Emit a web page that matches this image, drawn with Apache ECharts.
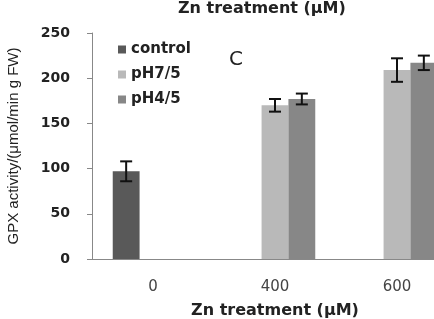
<!DOCTYPE html>
<html>
<head>
<meta charset="utf-8">
<script src="https://cdn.jsdelivr.net/npm/echarts@6/dist/echarts.min.js"></script>
<style>
  html, body { margin: 0; padding: 0; background: #fff; }
  /* the original figure is cropped on the right, so the chart is wider than the frame */
  #frame { position: relative; width: 434px; height: 319px; overflow: hidden; }
  #chart { position: absolute; left: 0; top: 0; width: 458px; height: 319px; }
</style>
</head>
<body>
<div id="frame"><div id="chart"></div></div>
<script>
// values
const categories = ['0', '400', '600']
const control = [97, null, null]
const controlErr = [11, null, null]
const ph75 = [null, 170, 209]
const ph75Err = [null, 7, 13]
const ph45 = [null, 177, 217]
const ph45Err = [null, 6, 8]
const yTicks = [0, 50, 100, 150, 200, 250]

const colors = ['#595959', '#b9b9b9', '#878787']
const gapPct = 0.34

// error bar drawn on top of the bar slot of series idx (of 3)
const errorSeries = (idx, vals, errs) => ({
  type: 'custom',
  silent: true,
  z: 10,
  data: vals.map((v, i) => (v == null ? [i, null, null] : [i, v - errs[i], v + errs[i]])),
  renderItem: (params, api) => {
    if (api.value(1) == null || isNaN(api.value(1))) return
    const band = api.size([1, 0])[0]
    const barW = band * (1 - gapPct) / 3
    const lo = api.coord([api.value(0), api.value(1)])
    const hi = api.coord([api.value(0), api.value(2)])
    const x = lo[0] + (idx - 1) * barW
    const cap = 6
    const style = { stroke: '#111', lineWidth: 2 }
    return {
      type: 'group',
      children: [
        { type: 'line', shape: { x1: x, y1: lo[1], x2: x, y2: hi[1] }, style },
        { type: 'line', shape: { x1: x - cap, y1: lo[1], x2: x + cap, y2: lo[1] }, style },
        { type: 'line', shape: { x1: x - cap, y1: hi[1], x2: x + cap, y2: hi[1] }, style }
      ]
    }
  }
})

const chart = echarts.init(document.getElementById('chart'), null, { renderer: 'canvas', width: 458, height: 319 })

chart.setOption({
  animation: false,
  backgroundColor: '#fff',
  grid: { left: 92, top: 33, bottom: 60, right: 0, containLabel: false, outerBoundsMode: 'none' },
  graphic: [
    {
      type: 'text',
      left: 178, top: 1,
      style: { text: 'Zn treatment (μM)', font: 'bold 16px "DejaVu Sans"', fill: '#222' }
    },
    {
      type: 'text',
      left: 229, top: 50,
      style: { text: 'C', font: '20px "DejaVu Sans"', fill: '#222' }
    }
  ],
  legend: {
    orient: 'vertical',
    left: 113, top: 37,
    itemWidth: 8, itemHeight: 8, itemGap: 10,
    icon: 'rect',
    textStyle: { fontFamily: 'DejaVu Sans', fontWeight: 'bold', fontSize: 15, color: '#222' },
    data: ['control', 'pH7/5', 'pH4/5']
  },
  xAxis: {
    type: 'category',
    data: categories,
    name: 'Zn treatment (μM)',
    nameLocation: 'middle',
    nameGap: 44,
    nameTextStyle: { fontFamily: 'DejaVu Sans', fontWeight: 'bold', fontSize: 16, color: '#222' },
    axisLine: { lineStyle: { color: '#888', width: 1 } },
    axisTick: { show: false },
    axisLabel: { margin: 21, fontFamily: 'DejaVu Sans', fontSize: 15, color: '#444' }
  },
  yAxis: {
    type: 'value',
    min: yTicks[0], max: yTicks[yTicks.length - 1], interval: 50,
    name: 'GPX activity/(μmol/min g FW)',
    nameLocation: 'middle',
    nameGap: 71,
    nameTextStyle: { fontFamily: 'Liberation Sans Narrow, Liberation Sans', fontSize: 15, color: '#222' },
    axisLine: { show: true, lineStyle: { color: '#888', width: 1 } },
    axisTick: { show: true, length: 5, lineStyle: { color: '#888' } },
    splitLine: { show: false },
    axisLabel: { margin: 22, fontFamily: 'DejaVu Sans', fontWeight: 'bold', fontSize: 14, color: '#222' }
  },
  series: [
    { name: 'control', type: 'bar', data: control, barGap: '0%', barCategoryGap: gapPct * 100 + '%', itemStyle: { color: colors[0] } },
    { name: 'pH7/5', type: 'bar', data: ph75, itemStyle: { color: colors[1] } },
    { name: 'pH4/5', type: 'bar', data: ph45, itemStyle: { color: colors[2] } },
    errorSeries(0, control, controlErr),
    errorSeries(1, ph75, ph75Err),
    errorSeries(2, ph45, ph45Err)
  ]
})
</script>
</body>
</html>
